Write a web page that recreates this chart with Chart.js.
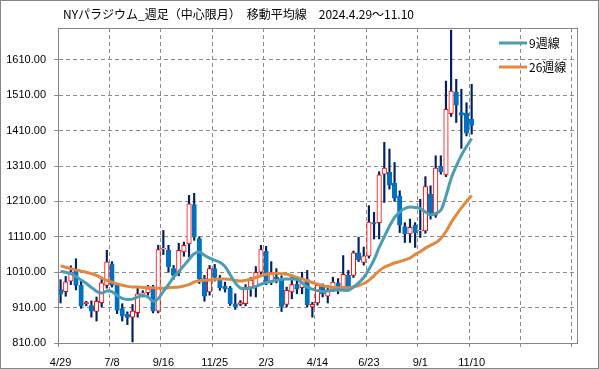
<!DOCTYPE html>
<html>
<head>
<meta charset="utf-8">
<script src="https://cdn.jsdelivr.net/npm/chart.js@4.4.1/dist/chart.umd.min.js"></script>
<style>
body { margin: 0; background: #fff; }
canvas { display: block; }
</style>
</head>
<body>
<canvas id="myChart" width="599" height="369"></canvas>
<script>
// x軸ラベル (10週ごと) と 空き枠を含めたカテゴリ数
const tickLabels = ['4/29', '7/8', '9/16', '11/25', '2/3', '4/14', '6/23', '9/1', '11/10'];
const slotCount = 101;
const yTicks = [810, 910, 1010, 1110, 1210, 1310, 1410, 1510, 1610];

// 週足 四本値
const opens = [961, 955, 985, 1017, 973, 921, 916, 899, 924, 973,
  1034, 973, 907, 891, 883, 896, 948, 952, 963, 900,
  1075, 1072, 1020, 1010, 1067, 1090, 1201, 1105, 992, 954,
  1020, 987, 970, 966, 921, 919, 921, 968, 970, 1010,
  1069, 982, 996, 992, 919, 954, 976, 966, 989, 912,
  923, 970, 942, 960, 980, 968, 1001, 1001, 1065, 1038,
  1055, 1150, 1150, 1287, 1292, 1261, 1226, 1139, 1118, 1143,
  1127, 1127, 1230, 1171, 1309, 1285, 1458, 1518, 1461, 1459,
  1442];
const highs = [989, 998, 1028, 1048, 985, 928, 929, 940, 996, 1072,
  1040, 978, 921, 898, 919, 968, 958, 973, 973, 1086,
  1128, 1086, 1029, 1092, 1095, 1227, 1233, 1110, 1001, 1029,
  1032, 1001, 982, 970, 949, 930, 975, 995, 1026, 1086,
  1083, 1040, 1020, 1000, 968, 996, 996, 1010, 1015, 925,
  979, 977, 973, 996, 992, 1057, 1015, 1070, 1109, 1081,
  1198, 1179, 1294, 1377, 1358, 1320, 1240, 1150, 1160, 1150,
  1216, 1280, 1254, 1339, 1339, 1550, 1694, 1555, 1527, 1489,
  1541];
const lows = [923, 942, 975, 960, 908, 915, 883, 872, 912, 965,
  968, 893, 872, 862, 813, 883, 940, 945, 895, 895,
  1060, 1010, 990, 1000, 1055, 1053, 1100, 978, 928, 945,
  985, 959, 954, 916, 905, 915, 915, 942, 940, 1000,
  975, 975, 980, 899, 912, 935, 949, 949, 912, 883,
  917, 940, 923, 955, 949, 960, 960, 995, 1040, 1030,
  1050, 1104, 1104, 1207, 1245, 1210, 1122, 1094, 1094, 1080,
  1108, 1120, 1160, 1165, 1287, 1280, 1450, 1433, 1360, 1395,
  1400];
const closes = [948, 983, 1011, 973, 914, 925, 900, 928, 980, 1039,
  973, 902, 886, 882, 900, 949, 952, 963, 900, 1074,
  1078, 1026, 1001, 1072, 1086, 1203, 1109, 992, 942, 1020,
  995, 966, 962, 921, 912, 924, 968, 987, 1010, 1074,
  982, 1010, 992, 913, 959, 975, 962, 992, 918, 919,
  973, 949, 960, 982, 963, 1004, 968, 1065, 1045, 1056,
  1152, 1146, 1285, 1304, 1256, 1219, 1143, 1118, 1137, 1122,
  1129, 1252, 1171, 1304, 1294, 1470, 1522, 1482, 1454, 1403,
  1425];

// 移動平均線
const ma9 = [1013, 1010, 1006, 998, 988, 978, 967, 956, 951, 957,
  955, 944, 936, 933, 934, 940, 944, 940, 928, 935,
  956, 975, 996, 1012, 1029, 1046, 1062, 1067, 1058, 1050,
  1044, 1038, 1026, 1003, 980, 965, 963, 965, 970, 976,
  981, 984, 987, 990, 991, 991, 990, 980, 968, 962,
  958, 955, 957, 959, 960, 959, 959, 968, 980, 995,
  1018, 1045, 1080, 1110, 1140, 1165, 1180, 1190, 1194, 1193,
  1190, 1180, 1172, 1176, 1185, 1225, 1275, 1310, 1340, 1365,
  1388];
const ma26 = [1028, 1024, 1020, 1016, 1013, 1010, 1006, 1001, 993, 987,
  982, 977, 973, 970, 968, 968, 967, 967, 966, 965,
  965, 966, 967, 968, 971, 975, 982, 986, 987, 988,
  990, 991, 991, 990, 987, 985, 987, 990, 995, 1000,
  1004, 1006, 1007, 1006, 1004, 1000, 995, 991, 986, 981,
  976, 972, 969, 967, 966, 966, 966, 968, 972, 978,
  987, 1000, 1014, 1024, 1030, 1036, 1040, 1045, 1050, 1060,
  1068, 1078, 1086, 1093, 1105, 1125, 1150, 1172, 1192, 1210,
  1227];

const categories = [];
for (let i = 0; i < slotCount; i++) {
  categories.push(i % 10 === 0 && i / 10 < tickLabels.length ? tickLabels[i / 10] : '');
}

const isUp = opens.map((o, i) => closes[i] >= o);
const gridColor = '#8c8c8c';
const axisFont = { family: 'Liberation Sans', size: 11 };

const decor = {
  id: 'decor',
  beforeDraw(chart) {
    const ctx = chart.ctx;
    ctx.save();
    ctx.fillStyle = '#fff';
    ctx.fillRect(0, 0, chart.width, chart.height);
    ctx.restore();
  },
  afterDraw(chart) {
    const ctx = chart.ctx, a = chart.chartArea;
    ctx.save();
    ctx.strokeStyle = '#868686';
    ctx.lineWidth = 1;
    ctx.strokeRect(Math.round(a.left) + 0.5, Math.round(a.top) + 0.5,
      Math.round(a.right - a.left), Math.round(a.bottom - a.top));
    ctx.strokeRect(0.5, 0.5, chart.width - 1, chart.height - 1);

    ctx.fillStyle = '#000';
    ctx.textBaseline = 'middle';
    ctx.font = '12px "Noto Sans CJK JP"';
    ctx.fillText('NYパラジウム_週足（中心限月）　移動平均線　2024.4.29～11.10', 63, 14);

    const items = [['9週線', '#4a9db4', 43], ['26週線', '#e2883f', 67]];
    items.forEach(([name, col, y]) => {
      ctx.strokeStyle = col;
      ctx.lineWidth = 3;
      ctx.beginPath();
      ctx.moveTo(499, y);
      ctx.lineTo(527, y);
      ctx.stroke();
      ctx.fillText(name, 529, y);
    });
    ctx.restore();
  }
};

new Chart(document.getElementById('myChart'), {
  data: {
    labels: categories,
    datasets: [
      {
        type: 'line',
        label: '9週線',
        data: ma9,
        borderColor: '#4a9db4',
        borderWidth: 3,
        pointRadius: 0,
        tension: 0.3,
        order: 0
      },
      {
        type: 'line',
        label: '26週線',
        data: ma26,
        borderColor: '#e2883f',
        borderWidth: 3,
        pointRadius: 0,
        tension: 0.3,
        order: 0
      },
      {
        type: 'bar',
        label: 'body',
        data: opens.map((o, i) => [o, closes[i]]),
        backgroundColor: isUp.map(u => u ? '#ffffff' : '#0070c0'),
        borderColor: isUp.map(u => u ? '#ff0000' : '#0070c0'),
        borderWidth: 1,
        borderSkipped: false,
        barThickness: 4.5,
        grouped: false,
        order: 1
      },
      {
        type: 'bar',
        label: 'wick',
        data: lows.map((l, i) => [l, highs[i]]),
        backgroundColor: '#002060',
        barThickness: 1.5,
        grouped: false,
        order: 2
      }
    ]
  },
  options: {
    responsive: false,
    animation: false,
    layout: { padding: { top: 28, right: 22, left: 0, bottom: 0 } },
    plugins: {
      legend: { display: false },
      title: { display: false },
      tooltip: { enabled: false }
    },
    scales: {
      x: {
        offset: true,
        grid: {
          offset: true,
          color: c => c.index % 10 === 0 ? gridColor : 'rgba(0,0,0,0)',
          tickColor: c => c.index % 10 === 0 ? gridColor : 'rgba(0,0,0,0)',
          tickLength: 4
        },
        border: { color: '#868686', dash: [4, 3] },
        ticks: { autoSkip: false, maxRotation: 0, minRotation: 0, font: axisFont, color: '#000', padding: 9 },
        afterFit: s => { s.height = 26; }
      },
      y: {
        min: 810,
        max: 1700,
        afterBuildTicks: s => { s.ticks = yTicks.map(v => ({ value: v })); },
        afterFit: s => { s.width = 58; },
        grid: { color: gridColor, tickColor: gridColor, tickLength: 4 },
        border: { color: '#868686', dash: [4, 3] },
        ticks: { callback: v => Number(v).toFixed(2), font: axisFont, color: '#000', padding: 8 }
      }
    }
  },
  plugins: [decor]
});
</script>
</body>
</html>
